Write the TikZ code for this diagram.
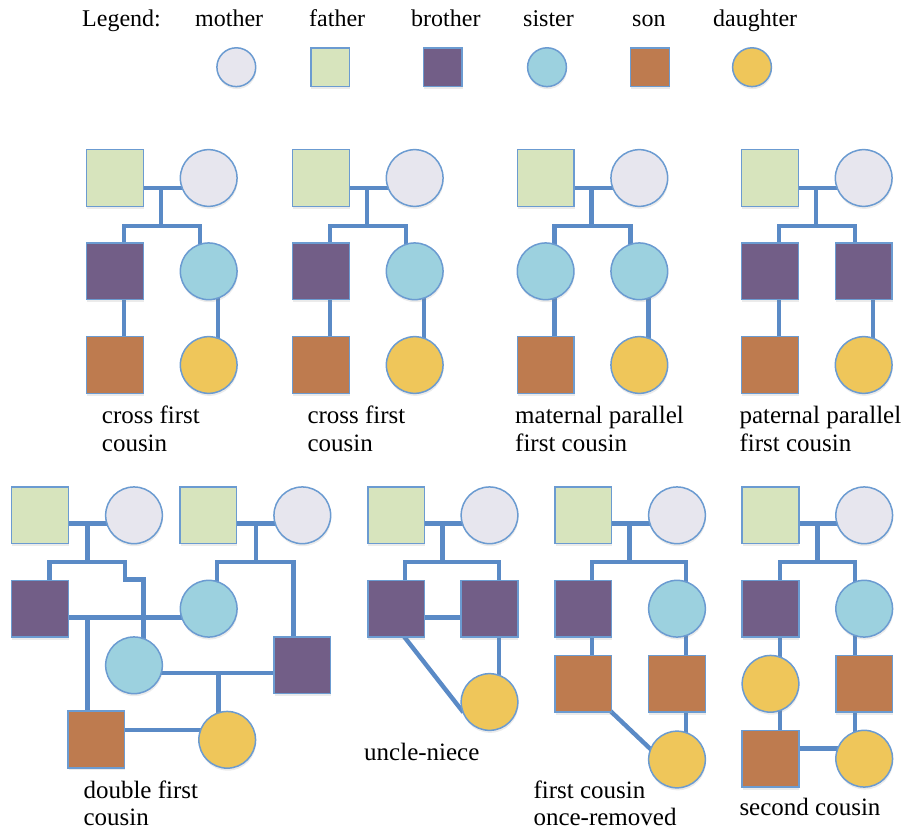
\documentclass[tikz,border=0pt]{standalone}
\usepackage{fontspec}
\setmainfont{Liberation Serif}
\newfontfamily\labelfont{Liberation Serif}
\usetikzlibrary{shadows}
\pgfdeclarelayer{bg}
\pgfsetlayers{bg,main}
\definecolor{cfather}{HTML}{D7E4BD}
\definecolor{cmother}{HTML}{E7E6EE}
\definecolor{cbrother}{HTML}{725E87}
\definecolor{csister}{HTML}{9CD1DF}
\definecolor{cson}{HTML}{BE7B4F}
\definecolor{cdaughter}{HTML}{EFC65A}
\definecolor{cline}{HTML}{5A8AC6}
\definecolor{cborder}{HTML}{6B9BD1}
\tikzset{
  person/.style={draw=cborder, line width=1.5pt, inner sep=0pt, minimum size=56.7pt,
    drop shadow={shadow xshift=0.6pt, shadow yshift=-2.5pt, opacity=0.16}},
  sq/.style={person, rectangle},
  ci/.style={person, circle},
  father/.style={sq, fill=cfather},
  mother/.style={ci, fill=cmother},
  brother/.style={sq, fill=cbrother},
  sister/.style={ci, fill=csister},
  son/.style={sq, fill=cson},
  daughter/.style={ci, fill=cdaughter},
  legsize/.style={minimum size=38.8pt},
  link/.style={draw=cline, line width=4.4pt},
  lbl/.style={font=\labelfont\fontsize{25}{29}\selectfont, anchor=base west, inner sep=0pt},
  leg/.style={font=\labelfont\fontsize{24}{28}\selectfont, anchor=base west, inner sep=0pt}
}
% #1 prefix, #2 X0, #3 left child, #4 right child, #5 label dx, #6 line1, #7 line2
\newcommand\toppd[7]{%
\begin{scope}[shift={(#2,0)}]
\node[father] (#1f) at (28.3,178) {};
\node[mother] (#1m) at (122,178) {};
\node[#3] (#1a) at (28.3,271.3) {};
\node[#4] (#1b) at (122,271.3) {};
\node[son] (#1c) at (28.3,365) {};
\node[daughter] (#1d) at (122,365) {};
\coordinate (#1j) at (74.3,188);
\coordinate (#1k) at (74.3,226);
\begin{pgfonlayer}{bg}
\draw[link] (#1f.center |- #1j) -- (#1m.center |- #1j);
\draw[link] (#1j) -- (#1k);
\draw[link] ([xshift=8.7pt]#1a.center) |- (#1k) -| ([xshift=-9pt]#1b.center);
\draw[link] ([xshift=8.7pt]#1a.center) -- ([xshift=8.7pt]#1c.center);
\draw[link] ([xshift=9pt]#1b.center) -- ([xshift=9pt]#1d.center);
\end{pgfonlayer}
\node[lbl] (#1t1) at (#5,423) {#6};
\node[lbl] (#1t2) at (#5,451) {#7};
\end{scope}}
\begin{document}
\begin{tikzpicture}[x=1pt,y=-1pt]
\useasboundingbox (0,0) rectangle (908,832);
% legend
\node[leg] (lgt) at (82,27) {Legend:};
\node[leg] (lmt) at (195,27) {mother};
\node[leg] (lft) at (309,27) {father};
\node[leg] (lbt) at (411,27) {brother};
\node[leg] (lst) at (523,27) {sister};
\node[leg] (lot) at (632,27) {son};
\node[leg] (ldt) at (713,27) {daughter};
\node[mother,legsize] (lm) at (236.3,67.2) {};
\node[father,legsize] (lf) at (330.2,67.2) {};
\node[brother,legsize] (lb) at (442.8,67.2) {};
\node[sister,legsize] (ls) at (547,67.2) {};
\node[son,legsize] (lo) at (650,67.2) {};
\node[daughter,legsize] (ld) at (752,67.2) {};
% top row
\toppd{a}{86.7}{brother}{sister}{15}{cross first}{cousin}
\toppd{b}{292.7}{brother}{sister}{14.6}{cross first}{cousin}
\toppd{c}{517.3}{sister}{sister}{-2.3}{maternal parallel}{first cousin}
\toppd{e}{741.7}{brother}{brother}{-2.4}{paternal parallel}{first cousin}
% double first cousin
\node[father] (dFA) at (40,515.3) {};
\node[mother] (dMA) at (134,515.3) {};
\node[father] (dFB) at (208.3,515.3) {};
\node[mother] (dMB) at (302.3,515.3) {};
\node[brother] (dBA) at (40,608.7) {};
\node[sister] (dSB) at (208.7,608.7) {};
\node[sister] (dSA) at (134,665.3) {};
\node[brother] (dBB) at (302.3,665.3) {};
\node[son] (dS) at (96.3,739.5) {};
\node[daughter] (dD) at (227.2,739.8) {};
\coordinate (dj1) at (87.3,523.3);
\coordinate (dk1) at (87.3,561.7);
\coordinate (dstep) at (125,579.3);
\coordinate (dj2) at (256,523.3);
\coordinate (dk2) at (256,561.7);
\coordinate (dj3) at (87.3,617.3);
\coordinate (dj4) at (218.3,672.7);
\coordinate (dj5) at (160,730);
\begin{pgfonlayer}{bg}
\draw[link] (dFA.center |- dj1) -- (dMA.center |- dj1);
\draw[link] (dj1) -- (dk1);
\draw[link] ([xshift=9.3pt]dBA.center) |- (dk1) -| (dstep) -| ([xshift=9.3pt]dSA.center);
\draw[link] (dFB.center |- dj2) -- (dMB.center |- dj2);
\draw[link] (dj2) -- (dk2);
\draw[link] ([xshift=8pt]dSB.center) |- (dk2) -| ([xshift=-9pt]dBB.center);
\draw[link] (dBA.center |- dj3) -- (dSB.center |- dj3);
\draw[link] (dj3) -- (dj3 |- dS.center);
\draw[link] (dSA.center |- dj4) -- (dBB.center |- dj4);
\draw[link] (dj4) -- (dj4 |- dD.center);
\draw[link] (dS.center |- dj5) -- (dD.center |- dj5);
\end{pgfonlayer}
\node[lbl] (dt1) at (83.3,798.3) {double first};
\node[lbl] (dt2) at (83.3,825) {cousin};
% uncle-niece
\node[father] (uF) at (396.2,515.3) {};
\node[mother] (uM) at (489.5,515.3) {};
\node[brother] (uB1) at (396.2,608.7) {};
\node[brother] (uB2) at (489.5,608.7) {};
\node[daughter] (uD) at (489.5,702) {};
\coordinate (uj) at (442.3,523.3);
\coordinate (uk) at (442.3,561.7);
\coordinate (uj2) at (442.3,617.3);
\begin{pgfonlayer}{bg}
\draw[link] (uF.center |- uj) -- (uM.center |- uj);
\draw[link] (uj) -- (uk);
\draw[link] ([xshift=8.8pt]uB1.center) |- (uk) -| ([xshift=9.5pt]uB2.center);
\draw[link] ([xshift=9.5pt]uB2.center) -- ([xshift=9.5pt]uD.center);
\draw[link] (uB1.center |- uj2) -- (uB2.center |- uj2);
\draw[link, shorten <=-5pt, shorten >=-3pt] ([xshift=8.8pt]uB1.south) -- (uD.196);
\end{pgfonlayer}
\node[lbl] (ut) at (364,760) {uncle-niece};
% first cousin once-removed
\node[father] (fF) at (583.3,515.3) {};
\node[mother] (fM) at (677,515.3) {};
\node[brother] (fB) at (583.3,608.7) {};
\node[sister] (fS) at (677,608.7) {};
\node[son] (fC1) at (583.3,683.8) {};
\node[son] (fC2) at (677,683.8) {};
\node[daughter] (fD) at (677,759.5) {};
\coordinate (fj) at (629.3,523.3);
\coordinate (fk) at (629.3,561.7);
\begin{pgfonlayer}{bg}
\draw[link] (fF.center |- fj) -- (fM.center |- fj);
\draw[link] (fj) -- (fk);
\draw[link] ([xshift=8.4pt]fB.center) |- (fk) -| ([xshift=8.7pt]fS.center);
\draw[link] ([xshift=8.4pt]fB.center) -- ([xshift=8.4pt]fC1.center);
\draw[link] ([xshift=8.7pt]fS.center) -- ([xshift=8.7pt]fD.center);
\draw[link, shorten <=-4pt, shorten >=-3pt] (fC1.south east) -- (fD.158);
\end{pgfonlayer}
\node[lbl] (ft1) at (533.3,798.3) {first cousin};
\node[lbl] (ft2) at (533.3,825) {once-removed};
% second cousin
\node[father] (sF) at (770.5,515.3) {};
\node[mother] (sM) at (864.2,515.3) {};
\node[brother] (sB) at (770.5,608.7) {};
\node[sister] (sS) at (864.2,608.7) {};
\node[daughter] (sD1) at (770.5,683.8) {};
\node[son] (sC1) at (864.2,683.8) {};
\node[son] (sC2) at (770.5,758.7) {};
\node[daughter] (sD2) at (864.2,758.7) {};
\coordinate (sj) at (817.3,523.3);
\coordinate (sk) at (817.3,561.7);
\coordinate (sj2) at (817.3,748.3);
\begin{pgfonlayer}{bg}
\draw[link] (sF.center |- sj) -- (sM.center |- sj);
\draw[link] (sj) -- (sk);
\draw[link] ([xshift=9.5pt]sB.center) |- (sk) -| ([xshift=-9.2pt]sS.center);
\draw[link] ([xshift=9.5pt]sB.center) -- ([xshift=9.5pt]sC2.center);
\draw[link] ([xshift=-9.2pt]sS.center) -- ([xshift=-9.2pt]sD2.center);
\draw[link] (sC2.center |- sj2) -- (sD2.center |- sj2);
\end{pgfonlayer}
\node[lbl] (st) at (739.3,815) {second cousin};
\end{tikzpicture}
\end{document}
